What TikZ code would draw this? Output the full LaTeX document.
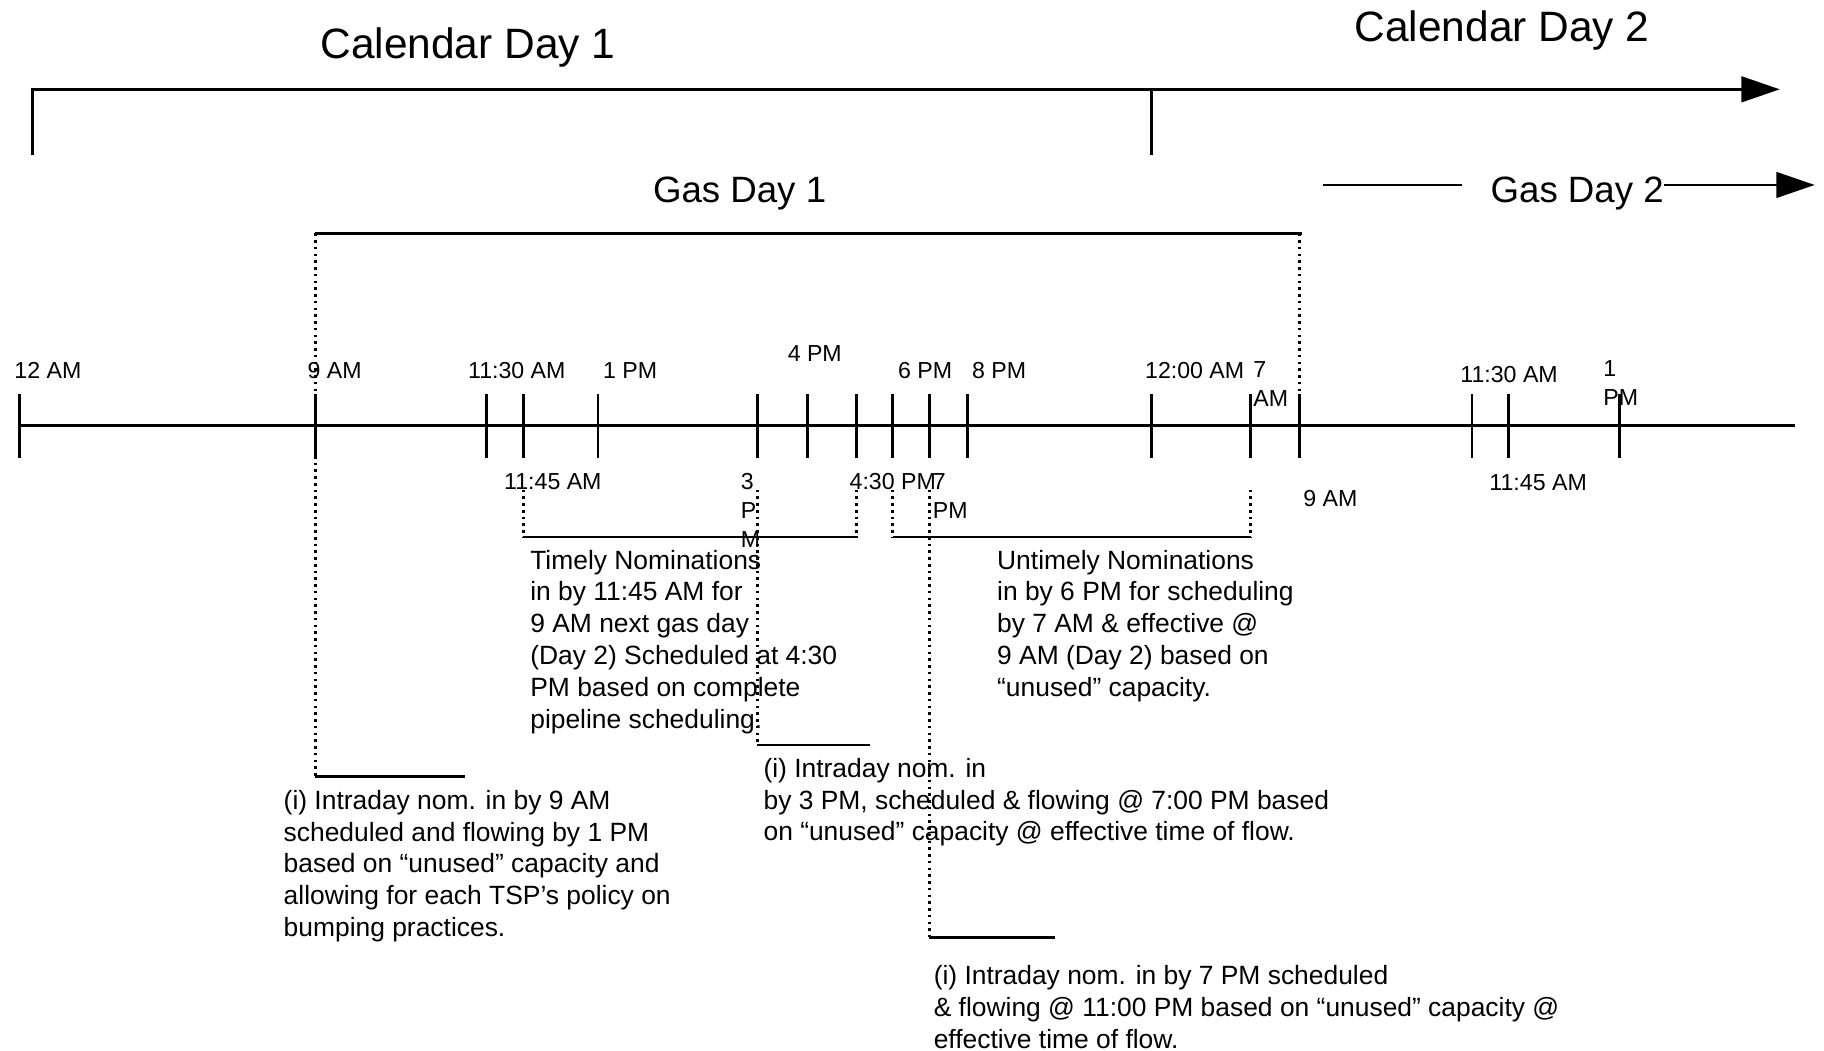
\documentclass[tikz,border=0pt]{standalone}
\usepackage{fontspec}
\setmainfont{Liberation Sans}
\usetikzlibrary{arrows.meta}

\begin{document}
\begin{tikzpicture}[x=0.5pt,y=0.5pt,yscale=-1,xscale=1,
  solidln/.style={line width=1.15pt},
  dotln/.style={line width=1.15pt, dash pattern={on 1.1pt off 1.8pt}},
  dayarrow/.style={solidln, -{Triangle[length=16.5pt,width=11pt]}},
  caltxt/.style={font=\fontsize{18.25}{22}\selectfont, inner sep=0pt, anchor=base west},
  gastxt/.style={font=\fontsize{15.75}{19}\selectfont, inner sep=0pt, anchor=base west},
  timelbl/.style={font=\fontsize{9.95}{12.5}\selectfont, inner sep=0pt, align=left},
  notetxt/.style={font=\fontsize{11.35}{13.7}\selectfont, inner sep=0pt, align=left, anchor=north west}]
\useasboundingbox (0,0) rectangle (1568,903);

%Calendar days
\draw (275,50.7) node (cal1) [caltxt] {Calendar Day 1};
\draw (1164,35.8) node (cal2) [caltxt] {Calendar Day 2};
\draw [dayarrow] (28,133) -- (28,76.8) -- (1530,76.8) ;
\draw [solidln] (990,76.8) -- (990,133) ;

%Gas days
\draw (561,174) node (gas1) [gastxt] {Gas Day 1};
\draw (1281,174) node (gas2) [gastxt] {Gas Day 2};
\coordinate (gas2end) at (1560,159);
\draw [solidln] (1137,159) -- (1256.5,159) ;
\draw [dayarrow] (gas2.east |- gas2end) -- (gas2end) ;
\draw [solidln] (271,200.6) -- (1119,200.6) ;
\draw [dotln] (271,200.6) -- (271,667.6) ;
\draw [dotln] (1117,200.6) -- (1117,366) ;

%Time line and ticks
\draw [solidln] (17,366) -- (1543,366) ;
\draw [solidln] (17,339) -- (17,394) (271,339) -- (271,394) (418,339) -- (418,394) (450,339) -- (450,394)
  (514,339) -- (514,394) (651,339) -- (651,394) (694,339) -- (694,394) (736,339) -- (736,394)
  (767.5,339) -- (767.5,394) (799,339) -- (799,394) (831.5,339) -- (831.5,394) (990,339) -- (990,394)
  (1075,339) -- (1075,394) (1117,339) -- (1117,394) (1265.5,339) -- (1265.5,394) (1297,339) -- (1297,394)
  (1392,339) -- (1392,394) ;

%Brackets under the time line
\draw [dotln] (450,421) -- (450,461.7) ;
\draw [dotln] (736,421) -- (736,461.7) ;
\draw [solidln] (450,461.7) -- (737.6,461.7) ;
\draw [dotln] (767.5,421) -- (767.5,461.7) ;
\draw [dotln] (1075,421) -- (1075,461.7) ;
\draw [solidln] (767.5,461.7) -- (1075.6,461.7) ;
\draw [dotln] (651,421) -- (651,640.4) ;
\draw [solidln] (651,640.4) -- (748,640.4) ;
\draw [dotln] (799,421) -- (799,805.7) ;
\draw [solidln] (799,805.7) -- (907,805.7) ;
\draw [solidln] (271,667.6) -- (399.7,667.6) ;

% Text Node
\draw (12,325) node (l12am) [timelbl, anchor=base west] {12 AM};
\draw (264,325) node (l9am) [timelbl, anchor=base west] {9 AM};
\draw (402,325) node (l1130am) [timelbl, anchor=base west] {11:30 AM};
\draw (518,325) node (l1pm) [timelbl, anchor=base west] {1 PM};
\draw (676.8,310.9) node (l4pm) [timelbl, anchor=base west] {4 PM};
\draw (771.7,325.2) node (l6pm) [timelbl, anchor=base west] {6 PM};
\draw (835.3,325.2) node (l8pm) [timelbl, anchor=base west] {8 PM};
\draw (984,325) node (l1200am) [timelbl, anchor=base west] {12:00 AM};
\draw (1077,310.7) node (l7am) [timelbl, anchor=north west] {7\\AM};
\draw (1255,329) node (l1130amb) [timelbl, anchor=base west] {11:30 AM};
\draw (1378,309.5) node (l1pmb) [timelbl, anchor=north west] {1\\PM};
% Text Node
\draw (433,421) node (l1145am) [timelbl, anchor=base west] {11:45 AM};
\draw (636.5,406.3) node (l3pm) [timelbl, anchor=north west] {3\\P\\M};
\draw (730,420.6) node (l430pm) [timelbl, anchor=base west] {4:30 PM};
\draw (801.5,406.3) node (l7pm) [timelbl, anchor=north west] {7\\PM};
\draw (1120,435) node (l9amb) [timelbl, anchor=base west] {9 AM};
\draw (1280,422) node (l1145amb) [timelbl, anchor=base west] {11:45 AM};

% Text Node
\draw (455.5,472.3) node (timely) [notetxt] {Timely Nominations\\in by 11:45 AM for\\9 AM next gas day\\(Day 2) Scheduled at 4:30\\PM based on complete\\pipeline scheduling.};
% Text Node
\draw (856.8,472.3) node (untimely) [notetxt] {Untimely Nominations\\in by 6 PM for scheduling\\by 7 AM \& effective @\\9 AM (Day 2) based on\\“unused” capacity.};
% Text Node
\draw (243.5,678.8) node (intra9am) [notetxt] {(i) Intraday nom. in by 9 AM\\scheduled and flowing by 1 PM\\based on “unused” capacity and\\allowing for each TSP’s policy on\\bumping practices.};
% Text Node
\draw (656,651.3) node (intra3pm) [notetxt] {(i) Intraday nom. in\\by 3 PM, scheduled \& flowing @ 7:00 PM based\\on “unused” capacity @ effective time of flow.};
% Text Node
\draw (802.3,829.5) node (intra7pm) [notetxt] {(i) Intraday nom. in by 7 PM scheduled\\\& flowing @ 11:00 PM based on “unused” capacity @\\effective time of flow.};

\end{tikzpicture}
\end{document}
